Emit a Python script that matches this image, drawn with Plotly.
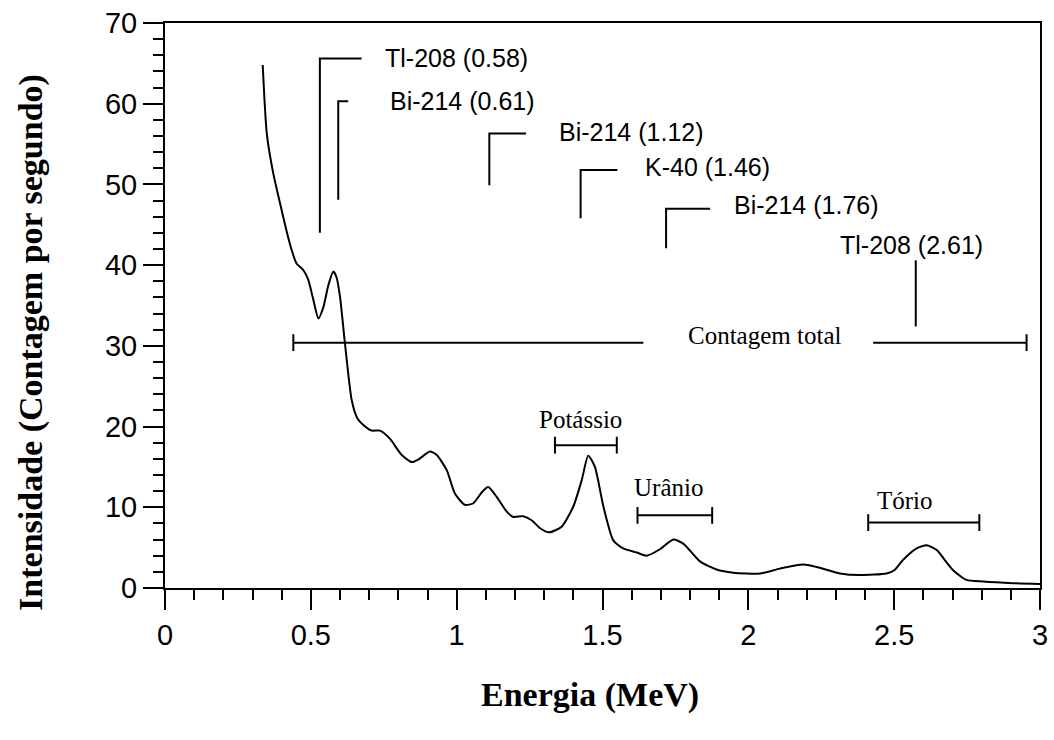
import plotly.graph_objects as go

# Espectro gama (Energia em MeV x contagens por segundo)
energia = [0.335, 0.349, 0.371, 0.400, 0.417, 0.434, 0.451, 0.474, 0.491, 0.508,
           0.526, 0.543, 0.560, 0.577, 0.588, 0.600, 0.617, 0.640, 0.660, 0.680,
           0.709, 0.737, 0.771, 0.811, 0.846, 0.868, 0.908, 0.931, 0.966, 0.994,
           1.028, 1.057, 1.085, 1.108, 1.137, 1.171, 1.194, 1.228, 1.257, 1.286,
           1.317, 1.360, 1.400, 1.429, 1.451, 1.474, 1.503, 1.537, 1.571, 1.617,
           1.651, 1.697, 1.743, 1.777, 1.834, 1.891, 1.948, 2.040, 2.108, 2.188,
           2.234, 2.314, 2.383, 2.474, 2.500, 2.531, 2.577, 2.611, 2.646, 2.675,
           2.702, 2.748, 2.805, 2.907, 3.000]
intensidade = [64.8, 56.3, 51.4, 46.8, 44.2, 41.9, 40.2, 39.4, 38.2, 35.8,
               33.4, 34.8, 37.5, 39.2, 38.5, 36.1, 30.3, 23.3, 21.0, 20.2,
               19.5, 19.5, 18.5, 16.5, 15.6, 15.9, 16.9, 16.5, 14.6, 11.7,
               10.3, 10.5, 11.8, 12.5, 11.3, 9.5, 8.8, 8.9, 8.4, 7.4,
               6.9, 7.6, 10.1, 13.4, 16.4, 15.0, 10.1, 5.9, 4.9, 4.4,
               4.0, 4.8, 6.0, 5.5, 3.3, 2.3, 1.9, 1.8, 2.4, 2.9,
               2.6, 1.8, 1.6, 1.8, 2.2, 3.5, 4.9, 5.3, 4.7, 3.4,
               2.2, 1.0, 0.8, 0.6, 0.5]

# Indicadores de picos
pico_nomes = ["Tl-208 (0.58)", "Bi-214 (0.61)", "Bi-214 (1.12)",
              "K-40 (1.46)", "Bi-214 (1.76)", "Tl-208 (2.61)"]
pico_x = [0.531, 0.594, 1.112, 1.425, 1.718, 2.574]
pico_topo = [65.6, 60.3, 56.3, 51.8, 47.0, 40.6]
pico_base = [44.0, 48.1, 49.9, 45.8, 42.1, 32.4]
pico_braco = [0.674, 0.628, 1.238, 1.551, 1.869, None]
rotulo_x = [0.747, 0.764, 1.345, 1.640, 1.943, 2.308]
rotulo_y = [65.7, 60.3, 56.5, 52.2, 47.5, 42.5]

# Janelas de energia
janela_nomes = ["Potássio", "Urânio", "Tório"]
janela_ini = [1.337, 1.620, 2.411]
janela_fim = [1.549, 1.876, 2.792]
janela_y = [17.7, 9.0, 8.1]
janela_txt_x = [1.423, 1.725, 2.537]
janela_txt_y = [20.9, 12.4, 10.9]

total_ini, total_fim = 0.440, 2.954
total_gap = [1.640, 2.428]
total_y = 30.4

fig = go.Figure()

fig.add_trace(go.Scatter(x=energia, y=intensidade, mode='lines',
                         line=dict(color='black', width=2, shape='spline', smoothing=0.6),
                         showlegend=False, hoverinfo='skip'))

# linhas dos picos
for i in range(len(pico_nomes)):
    if pico_braco[i] is not None:
        xs = [pico_x[i], pico_x[i], pico_braco[i]]
        ys = [pico_base[i], pico_topo[i], pico_topo[i]]
    else:
        xs = [pico_x[i], pico_x[i]]
        ys = [pico_base[i], pico_topo[i]]
    fig.add_trace(go.Scatter(x=xs, y=ys, mode='lines', line=dict(color='black', width=2),
                             showlegend=False, hoverinfo='skip'))
    fig.add_annotation(x=rotulo_x[i], y=rotulo_y[i], text=pico_nomes[i], showarrow=False,
                       xanchor='left', yanchor='middle',
                       font=dict(family='Liberation Sans, Arial', size=25, color='black'))

# janelas
cap = dict(symbol='line-ns', size=12, line=dict(color='black', width=2))
for i in range(len(janela_nomes)):
    fig.add_trace(go.Scatter(x=[janela_ini[i], janela_fim[i]], y=[janela_y[i]] * 2,
                             mode='lines+markers', line=dict(color='black', width=2),
                             marker=cap, showlegend=False, hoverinfo='skip'))
    fig.add_annotation(x=janela_txt_x[i], y=janela_txt_y[i], text=janela_nomes[i],
                       showarrow=False, xanchor='center', yanchor='middle',
                       font=dict(family='Liberation Serif, Times New Roman', size=25, color='black'))

fig.add_trace(go.Scatter(x=[total_ini, total_gap[0]], y=[total_y] * 2, mode='lines',
                         line=dict(color='black', width=2), showlegend=False, hoverinfo='skip'))
fig.add_trace(go.Scatter(x=[total_gap[1], total_fim], y=[total_y] * 2, mode='lines',
                         line=dict(color='black', width=2), showlegend=False, hoverinfo='skip'))
fig.add_trace(go.Scatter(x=[total_ini, total_fim], y=[total_y] * 2, mode='markers',
                         marker=cap, showlegend=False, hoverinfo='skip'))
fig.add_annotation(x=(total_gap[0] + total_gap[1]) / 2 + 0.02, y=total_y + 0.9, text="Contagem total",
                   showarrow=False, xanchor='center', yanchor='middle',
                   font=dict(family='Liberation Serif, Times New Roman', size=25, color='black'))

# titulos dos eixos
fig.add_annotation(xref='paper', yref='paper', x=0.486, y=-0.19, text="<b>Energia (MeV)</b>",
                   showarrow=False, xanchor='center', yanchor='middle',
                   font=dict(family='Liberation Serif, Times New Roman', size=34, color='black'))
fig.add_annotation(xref='paper', yref='paper', x=-0.153, y=0.434,
                   text="<b>Intensidade (Contagem por segundo)</b>", textangle=-90,
                   showarrow=False, xanchor='center', yanchor='middle',
                   font=dict(family='Liberation Serif, Times New Roman', size=34, color='black'))

fig.update_layout(width=1054, height=740, plot_bgcolor='white', paper_bgcolor='white',
                  margin=dict(l=165, r=14, t=23, b=152, autoexpand=False))
fig.update_xaxes(range=[0, 3], dtick=0.5, tick0=0, ticks='outside', ticklen=20, tickwidth=2,
                 tickcolor='black', showline=True, linecolor='black', linewidth=2, mirror=True,
                 showgrid=False, zeroline=False, automargin=False,
                 minor=dict(dtick=0.1, ticks='outside', ticklen=10, tickwidth=2, tickcolor='black'),
                 tickfont=dict(family='Liberation Sans, Arial', size=29, color='black'))
fig.update_yaxes(range=[0, 70], dtick=10, tick0=0, ticks='outside', ticklen=20, tickwidth=2,
                 tickcolor='black', showline=True, linecolor='black', linewidth=2, mirror=True,
                 showgrid=False, zeroline=False, automargin=False,
                 minor=dict(dtick=2, ticks='outside', ticklen=10, tickwidth=2, tickcolor='black'),
                 tickfont=dict(family='Liberation Sans, Arial', size=29, color='black'))

# sem a margem padrao do body, a figura fica no canto da pagina
fig.write_html("out.html", config={'displayModeBar': False},
               post_script="document.body.style.margin='0';")
